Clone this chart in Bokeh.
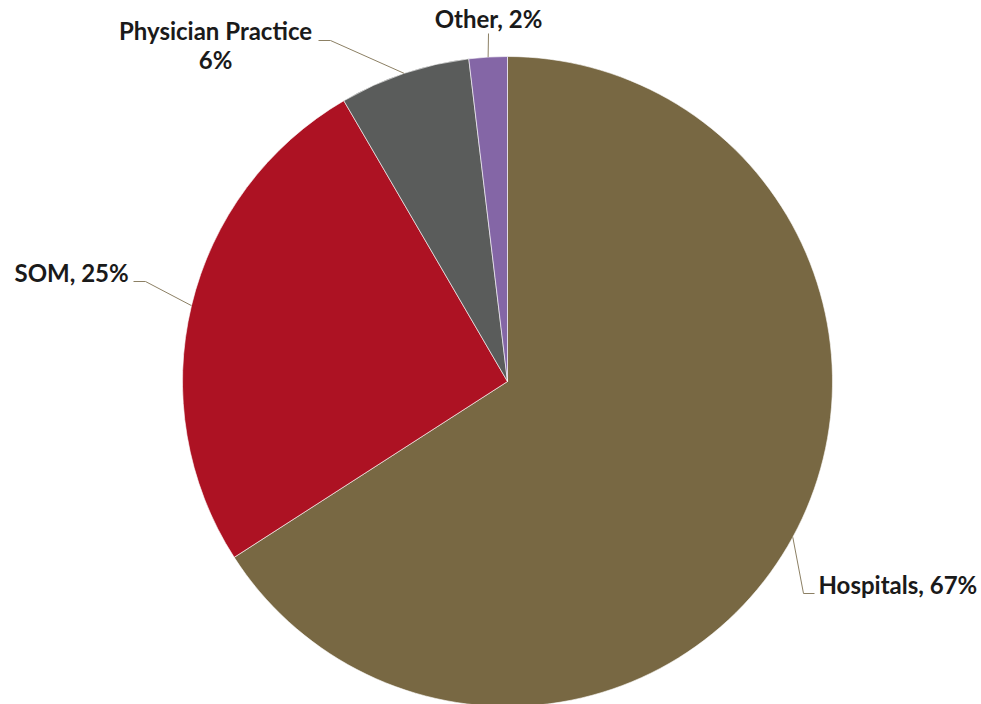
import numpy as np
from bokeh.plotting import figure
from bokeh.models import ColumnDataSource, Range1d
from bokeh.core.properties import value
from bokeh.embed import file_html
from bokeh.resources import INLINE

# ---- data ----
categories = ["Hospitals", "SOM", "Physician Practice", "Other"]
shares = [65.9, 25.7, 6.5, 1.9]
pct_labels = ["67%", "25%", "6%", "2%"]
colors = ["#786843", "#AD1223", "#5A5C5B", "#8466A6"]

# ---- layout (page pixel coordinates, y downwards) ----
W, H = 981, 704
PAGE_H = 704
cx_pg, cy_pg, R = 507, 381, 325


def Y(py):
    return PAGE_H - py


p = figure(width=W, height=H, x_range=Range1d(0, W), y_range=Range1d(0, H),
           output_backend="svg", toolbar_location=None, min_border=0,
           background_fill_color="white", border_fill_color="white")
p.axis.visible = False
p.grid.visible = False
p.outline_line_color = None

frac = np.array(shares) / sum(shares)
cum = np.concatenate([[0], np.cumsum(frac)])
start = np.pi / 2 - 2 * np.pi * cum[1:]
end = np.pi / 2 - 2 * np.pi * cum[:-1]
mid = (cum[1:] + cum[:-1]) / 2

src = ColumnDataSource(dict(cat=categories, start=start, end=end, color=colors,
                            x=[cx_pg] * 4, y=[Y(cy_pg)] * 4))
p.wedge(x="x", y="y", radius=R, radius_units="data", start_angle="start", end_angle="end",
        direction="anticlock", fill_color="color", line_color="white", line_width=0.6, source=src)

# leader lines: start at slice edge at mid angle
edge_x = cx_pg + R * np.sin(2 * np.pi * mid)
edge_y = cy_pg - R * np.cos(2 * np.pi * mid)

elbows = [(803, 593), (145, 281), (330, 40), (488, 33)]
ends = [(814, 593), (133, 281), (318, 40), (488, 33)]
lc = "#8C8064"
for i in range(4):
    xs = [edge_x[i], elbows[i][0], ends[i][0]]
    ys = [Y(edge_y[i]), Y(elbows[i][1]), Y(ends[i][1])]
    p.line(xs, ys, line_color=lc, line_width=1)

font = value("Lato")
tc = "#1A1A1A"
fs = "24px"
label_text = [categories[0] + ", " + pct_labels[0],
              categories[1] + ", " + pct_labels[1],
              categories[2],
              pct_labels[2],
              categories[3] + ", " + pct_labels[3]]
label_x = [818, 14, 215, 215, 488]
label_y = [584, 272, 30, 59, 18]
label_align = ["left", "left", "center", "center", "center"]
lsrc = ColumnDataSource(dict(t=label_text, x=label_x, y=[Y(v) for v in label_y], a=label_align))
p.text(x="x", y="y", text="t", text_align="a", text_baseline="alphabetic", text_font=font,
       text_font_size=fs, text_font_style="bold", text_color=tc, source=lsrc)

open("out.html", "w").write(file_html(p, INLINE))
